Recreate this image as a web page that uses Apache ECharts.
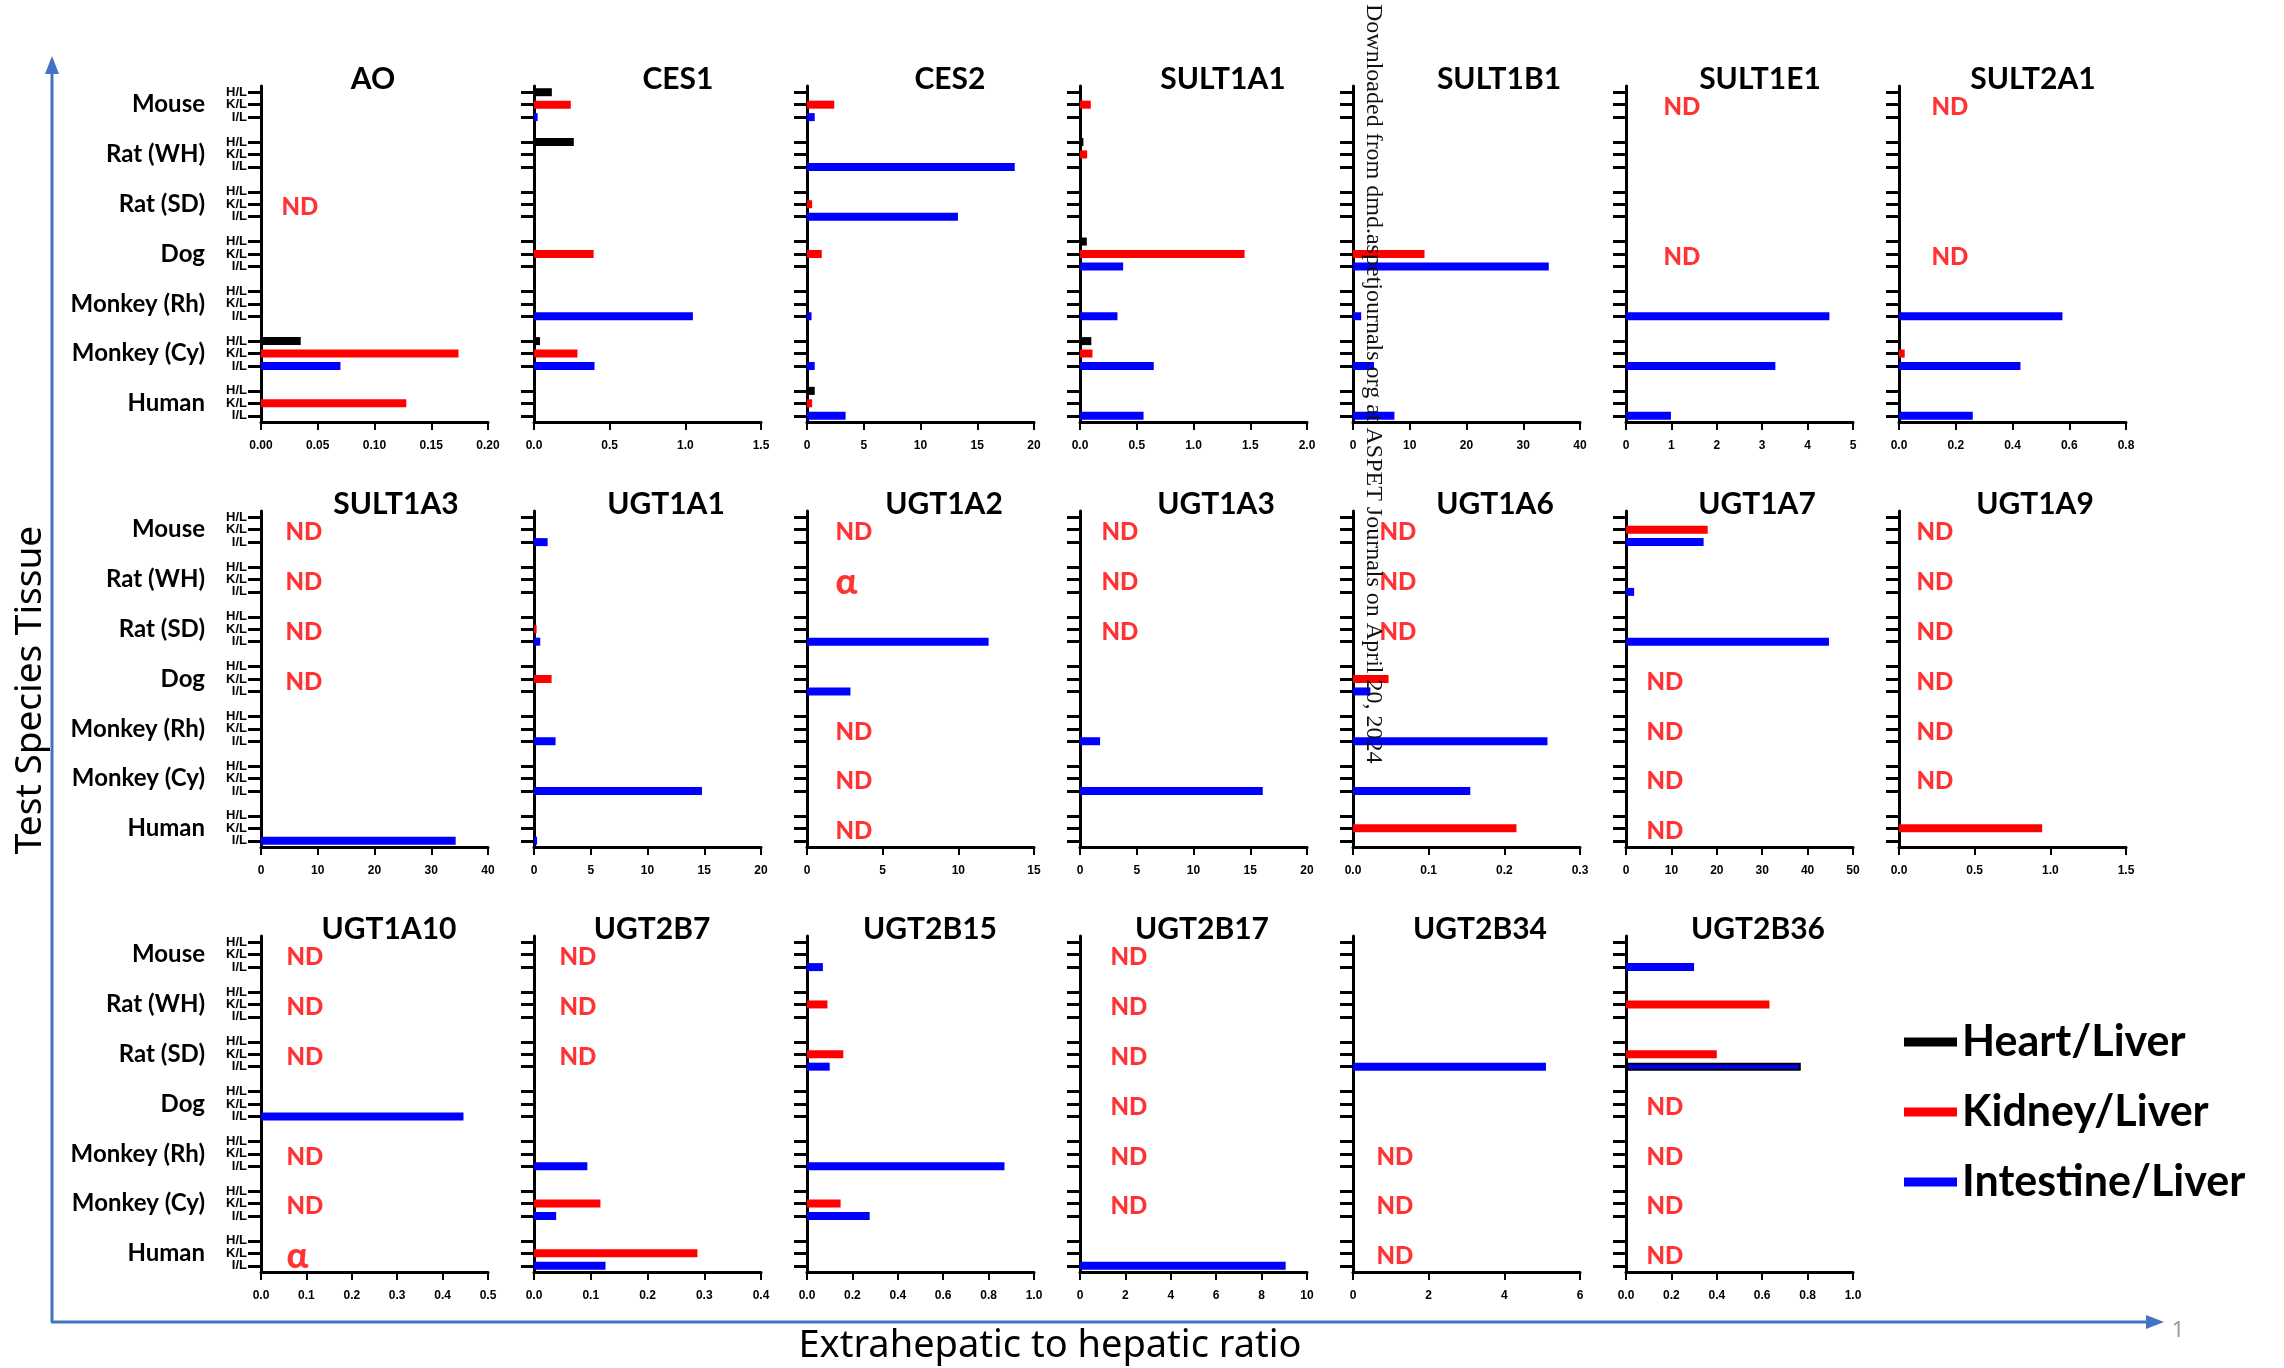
<!DOCTYPE html>
<html><head><meta charset="utf-8">
<script src="https://cdn.jsdelivr.net/npm/echarts@6/dist/echarts.min.js"></script>
<style>html,body{margin:0;padding:0;background:#fff}#c{width:2284px;height:1368px}</style>
</head><body><div id="c"></div>
<script>
// ---------------- DATA ----------------
const n = null;
const species = ['Mouse', 'Rat (WH)', 'Rat (SD)', 'Dog', 'Monkey (Rh)', 'Monkey (Cy)', 'Human'];
const tissueTicks = ['H/L', 'K/L', 'I/L'];
const seriesNames = ['Heart/Liver', 'Kidney/Liver', 'Intestine/Liver'];
const enzymes = ['AO', 'CES1', 'CES2', 'SULT1A1', 'SULT1B1', 'SULT1E1', 'SULT2A1',
  'SULT1A3', 'UGT1A1', 'UGT1A2', 'UGT1A3', 'UGT1A6', 'UGT1A7', 'UGT1A9',
  'UGT1A10', 'UGT2B7', 'UGT2B15', 'UGT2B17', 'UGT2B34', 'UGT2B36'];
// x-axis tick labels per panel: 0 .. max step interval
const axisMax = [0.2, 1.5, 20, 2, 40, 5, 0.8, 40, 20, 15, 20, 0.3, 50, 1.5, 0.5, 0.4, 1.0, 10, 6, 1.0];
const axisStep = [0.05, 0.5, 5, 0.5, 10, 1, 0.2, 10, 5, 5, 5, 0.1, 10, 0.5, 0.1, 0.1, 0.2, 2, 2, 0.2];
const axisDecimals = [2, 1, 0, 1, 0, 0, 1, 0, 0, 0, 0, 1, 0, 1, 1, 1, 1, 0, 0, 1];

// values per species (Mouse, Rat WH, Rat SD, Dog, Monkey Rh, Monkey Cy, Human); null = no bar
const AO_H = [n, n, n, n, n, 0.035, n];
const AO_K = [n, n, n, n, n, 0.174, 0.128];
const AO_I = [n, n, n, n, n, 0.070, n];
const AO_note = ['', '', 'ND', '', '', '', ''];

const CES1_H = [0.118, 0.263, n, n, n, 0.04, n];
const CES1_K = [0.243, n, n, 0.394, n, 0.287, n];
const CES1_I = [0.024, n, n, n, 1.05, 0.40, n];
const CES1_note = ['', '', '', '', '', '', ''];

const CES2_H = [n, n, n, n, n, n, 0.68];
const CES2_K = [2.4, n, 0.45, 1.3, n, n, 0.45];
const CES2_I = [0.68, 18.3, 13.3, n, 0.4, 0.68, 3.4];
const CES2_note = ['', '', '', '', '', '', ''];

const SULT1A1_H = [n, 0.03, n, 0.06, n, 0.10, n];
const SULT1A1_K = [0.095, 0.063, n, 1.45, n, 0.11, n];
const SULT1A1_I = [n, n, n, 0.38, 0.33, 0.65, 0.56];
const SULT1A1_note = ['', '', '', '', '', '', ''];

const SULT1B1_H = [n, n, n, n, n, n, n];
const SULT1B1_K = [n, n, n, 12.6, n, n, n];
const SULT1B1_I = [n, n, n, 34.5, 1.45, 3.7, 7.3];
const SULT1B1_note = ['', '', '', '', '', '', ''];

const SULT1E1_H = [n, n, n, n, n, n, n];
const SULT1E1_K = [n, n, n, n, n, n, n];
const SULT1E1_I = [n, n, n, n, 4.48, 3.29, 0.99];
const SULT1E1_note = ['ND', '', '', 'ND', '', '', ''];

const SULT2A1_H = [n, n, n, n, n, n, n];
const SULT2A1_K = [n, n, n, n, n, 0.02, n];
const SULT2A1_I = [n, n, n, n, 0.576, 0.428, 0.26];
const SULT2A1_note = ['ND', '', '', 'ND', '', '', ''];

const SULT1A3_H = [n, n, n, n, n, n, n];
const SULT1A3_K = [n, n, n, n, n, n, n];
const SULT1A3_I = [n, n, n, n, n, n, 34.3];
const SULT1A3_note = ['ND', 'ND', 'ND', 'ND', '', '', ''];

const UGT1A1_H = [n, n, n, n, n, n, n];
const UGT1A1_K = [n, n, 0.23, 1.55, n, n, n];
const UGT1A1_I = [1.2, n, 0.55, n, 1.9, 14.8, 0.27];
const UGT1A1_note = ['', '', '', '', '', '', ''];

const UGT1A2_H = [n, n, n, n, n, n, n];
const UGT1A2_K = [n, n, n, n, n, n, n];
const UGT1A2_I = [n, n, 12.0, 2.87, n, n, n];
const UGT1A2_note = ['ND', 'α', '', '', 'ND', 'ND', 'ND'];

const UGT1A3_H = [n, n, n, n, n, n, n];
const UGT1A3_K = [n, n, n, n, n, n, n];
const UGT1A3_I = [n, n, n, n, 1.77, 16.1, n];
const UGT1A3_note = ['ND', 'ND', 'ND', '', '', '', ''];

const UGT1A6_H = [n, n, n, n, n, n, n];
const UGT1A6_K = [n, n, n, 0.047, n, n, 0.216];
const UGT1A6_I = [n, n, n, 0.023, 0.257, 0.155, n];
const UGT1A6_note = ['ND', 'ND', 'ND', '', '', '', ''];

const UGT1A7_H = [n, n, n, n, n, n, n];
const UGT1A7_K = [18.0, n, n, n, n, n, n];
const UGT1A7_I = [17.1, 1.8, 44.7, n, n, n, n];
const UGT1A7_note = ['', '', '', 'ND', 'ND', 'ND', 'ND'];

const UGT1A9_H = [n, n, n, n, n, n, n];
const UGT1A9_K = [n, n, n, n, n, n, 0.946];
const UGT1A9_I = [n, n, n, n, n, n, n];
const UGT1A9_note = ['ND', 'ND', 'ND', 'ND', 'ND', 'ND', ''];

const UGT1A10_H = [n, n, n, n, n, n, n];
const UGT1A10_K = [n, n, n, n, n, n, n];
const UGT1A10_I = [n, n, n, 0.446, n, n, n];
const UGT1A10_note = ['ND', 'ND', 'ND', '', 'ND', 'ND', 'α'];

const UGT2B7_H = [n, n, n, n, n, n, n];
const UGT2B7_K = [n, n, n, n, n, 0.117, 0.288];
const UGT2B7_I = [n, n, n, n, 0.094, 0.039, 0.126];
const UGT2B7_note = ['ND', 'ND', 'ND', '', '', '', ''];

const UGT2B15_H = [n, n, n, n, n, n, n];
const UGT2B15_K = [n, 0.09, 0.16, n, n, 0.148, n];
const UGT2B15_I = [0.07, n, 0.10, n, 0.87, 0.276, n];
const UGT2B15_note = ['', '', '', '', '', '', ''];

const UGT2B17_H = [n, n, n, n, n, n, n];
const UGT2B17_K = [n, n, n, n, n, n, n];
const UGT2B17_I = [n, n, n, n, n, n, 9.06];
const UGT2B17_note = ['ND', 'ND', 'ND', 'ND', 'ND', 'ND', ''];

const UGT2B34_H = [n, n, n, n, n, n, n];
const UGT2B34_K = [n, n, n, n, n, n, n];
const UGT2B34_I = [n, n, 5.1, n, n, n, n];
const UGT2B34_note = ['', '', '', '', 'ND', 'ND', 'ND'];

const UGT2B36_H = [n, n, n, n, n, n, n];
const UGT2B36_K = [n, 0.632, 0.40, n, n, n, n];
const UGT2B36_I = [0.30, n, 0.77, n, n, n, n];
const UGT2B36_note = ['', '', '', 'ND', 'ND', 'ND', 'ND'];

// bars drawn with a black outline in the original: [enzyme, tissue index, species index]
const outlinedBars = [['UGT2B36', 2, 2]];

const heartVals = [AO_H, CES1_H, CES2_H, SULT1A1_H, SULT1B1_H, SULT1E1_H, SULT2A1_H, SULT1A3_H, UGT1A1_H, UGT1A2_H, UGT1A3_H, UGT1A6_H, UGT1A7_H, UGT1A9_H, UGT1A10_H, UGT2B7_H, UGT2B15_H, UGT2B17_H, UGT2B34_H, UGT2B36_H];
const kidneyVals = [AO_K, CES1_K, CES2_K, SULT1A1_K, SULT1B1_K, SULT1E1_K, SULT2A1_K, SULT1A3_K, UGT1A1_K, UGT1A2_K, UGT1A3_K, UGT1A6_K, UGT1A7_K, UGT1A9_K, UGT1A10_K, UGT2B7_K, UGT2B15_K, UGT2B17_K, UGT2B34_K, UGT2B36_K];
const intestineVals = [AO_I, CES1_I, CES2_I, SULT1A1_I, SULT1B1_I, SULT1E1_I, SULT2A1_I, SULT1A3_I, UGT1A1_I, UGT1A2_I, UGT1A3_I, UGT1A6_I, UGT1A7_I, UGT1A9_I, UGT1A10_I, UGT2B7_I, UGT2B15_I, UGT2B17_I, UGT2B34_I, UGT2B36_I];
const notes = [AO_note, CES1_note, CES2_note, SULT1A1_note, SULT1B1_note, SULT1E1_note, SULT2A1_note, SULT1A3_note, UGT1A1_note, UGT1A2_note, UGT1A3_note, UGT1A6_note, UGT1A7_note, UGT1A9_note, UGT1A10_note, UGT2B7_note, UGT2B15_note, UGT2B17_note, UGT2B34_note, UGT2B36_note];

// ---------------- LAYOUT / STYLE ----------------
const colors = ['#000000', '#FF0000', '#0000FF'];
const GRID_LEFT0 = 261, COL_STEP = 273, GRID_W = 227;
const ROW_TOP0 = 83, ROW_STEP = 425, AXIS_H = 339;
// per-panel title centre offset from the panel's y axis (px) and ND text offset (px)
const titleDx = [112, 144, 143, 143, 146, 134, 134, 135, 132, 137, 136, 142, 131, 136, 128, 118, 123, 122, 127, 132];
const noteDx = [20, 22, 22, 22, 22, 37, 32, 24, 22, 28, 21, 26, 20, 17, 25, 25, 22, 30, 23, 20];
const SLOTS = 27; // 7 species x (3 tissues + 1 gap) - last gap
const cats = []; for (let i = 0; i < SLOTS; i++) cats.push('c' + i);
const slotOf = (s, t) => s * 4 + t;
const FONT = 'Lato, "Open Sans", sans-serif';
const TICKFONT = '"Liberation Sans", Arial, sans-serif';

const grids = [], xAxes = [], yAxes = [], series = [], titles = [];
const valsByTissue = [heartVals, kidneyVals, intestineVals];

enzymes.forEach((name, p) => {
  const row = Math.floor(p / 7), col = p % 7;
  const left = GRID_LEFT0 + col * COL_STEP;
  const rowTop = ROW_TOP0 + row * ROW_STEP;
  grids.push({ left: left, top: rowTop + 3, width: GRID_W, height: AXIS_H - 3 });
  titles.push({
    text: name, left: left + titleDx[p], top: rowTop - 21, textAlign: 'center', padding: 0,
    textStyle: { fontSize: 30, fontWeight: 'bold', fontFamily: FONT, color: '#000', lineHeight: 34 }
  });
  const dec = axisDecimals[p];
  xAxes.push({
    type: 'value', gridIndex: p, min: 0, max: axisMax[p], interval: axisStep[p],
    axisLine: { show: true, lineStyle: { color: '#000', width: 3 } },
    axisTick: { show: true, length: 8, lineStyle: { color: '#000', width: 2 } },
    splitLine: { show: false },
    axisLabel: { formatter: v => Number(v).toFixed(dec), fontSize: 12, fontWeight: 'bold', fontFamily: TICKFONT, color: '#000', margin: 18, showMaxLabel: true, showMinLabel: true }
  });
  const yIdx = yAxes.length;
  yAxes.push({
    type: 'category', gridIndex: p, data: cats, inverse: true,
    axisLine: { show: true, onZero: false, lineStyle: { color: '#000', width: 3 } },
    axisTick: { show: true, alignWithLabel: true, length: 13, interval: (i) => i % 4 !== 3, lineStyle: { color: '#000', width: 3 } },
    axisLabel: {
      show: col === 0, interval: 0, margin: 14, fontSize: 13, fontWeight: 'bold', fontFamily: TICKFONT, color: '#000', lineHeight: 12,
      formatter: (v, i) => (i % 4 === 3 ? '' : tissueTicks[i % 4])
    },
    splitLine: { show: false }
  });
  if (col === 0) {
    yAxes.push({
      type: 'category', gridIndex: p, data: cats, inverse: true, position: 'left',
      axisLine: { show: false }, axisTick: { show: false }, splitLine: { show: false },
      axisLabel: {
        interval: 0, margin: 56, fontSize: 24, fontWeight: 'bold', fontFamily: FONT, color: '#000',
        padding: [0, 0, 10, 0],
        formatter: (v, i) => (i % 4 === 1 ? species[(i - 1) / 4] : '')
      }
    });
  }
  // bars
  for (let t = 0; t < 3; t++) {
    const data = cats.map(() => '-');
    valsByTissue[t][p].forEach((v, s) => {
      if (v === null) return;
      const outlined = outlinedBars.some(o => o[0] === name && o[1] === t && o[2] === s);
      data[slotOf(s, t)] = outlined ? { value: v, itemStyle: { borderColor: '#000', borderWidth: 2 } } : v;
    });
    series.push({
      type: 'bar', name: seriesNames[t], xAxisIndex: p, yAxisIndex: yIdx, data: data,
      barWidth: 8, barGap: '-100%', itemStyle: { color: colors[t] }, silent: true
    });
  }
  // ND / alpha annotations
  const noteData = [];
  notes[p].forEach((txt, s) => {
    if (!txt) return;
    const big = txt === 'α';
    noteData.push({
      name: txt, value: [0, slotOf(s, 1)],
      label: { fontSize: big ? 36 : 24, fontFamily: FONT }
    });
  });
  if (noteData.length) {
    series.push({
      type: 'scatter', name: 'note' + p, xAxisIndex: p, yAxisIndex: yIdx, data: noteData,
      symbolSize: 1, itemStyle: { color: 'rgba(0,0,0,0)' }, silent: true, z: 5,
      label: { show: true, position: 'right', distance: noteDx[p], offset: [0, 3], formatter: q => q.name, color: '#FF0000', fontWeight: 900, fontFamily: FONT }
    });
  }
});

const blue = '#4472C4';
const option = {
  animation: false,
  backgroundColor: '#fff',
  title: titles,
  grid: grids, xAxis: xAxes, yAxis: yAxes, series: series,
  legend: {
    data: seriesNames, orient: 'vertical', left: 1899, top: 1012, itemWidth: 53, itemHeight: 9, itemGap: 20,
    icon: 'rect', selectedMode: false,
    textStyle: { fontSize: 43, fontWeight: 'bold', fontFamily: FONT, color: '#000', lineHeight: 50 }
  },
  graphic: [
    { type: 'line', shape: { x1: 52, y1: 1322, x2: 52, y2: 70 }, style: { stroke: blue, lineWidth: 3 }, z: 10 },
    { type: 'polygon', shape: { points: [[52, 56], [45, 74], [59, 74]] }, style: { fill: blue }, z: 10 },
    { type: 'line', shape: { x1: 51, y1: 1322, x2: 2150, y2: 1322 }, style: { stroke: blue, lineWidth: 3 }, z: 10 },
    { type: 'polygon', shape: { points: [[2164, 1322], [2146, 1315], [2146, 1329]] }, style: { fill: blue }, z: 10 },
    { type: 'text', x: 30, y: 690, rotation: Math.PI / 2, z: 10,
      style: { text: 'Test Species Tissue', fill: '#000', font: '37px "Noto Sans", sans-serif', align: 'center', verticalAlign: 'middle' } },
    { type: 'text', x: 1050, y: 1346, z: 10,
      style: { text: 'Extrahepatic to hepatic ratio', fill: '#000', font: '38px "Noto Sans", sans-serif', align: 'center', verticalAlign: 'middle' } },
    { type: 'text', x: 2178, y: 1331, z: 10,
      style: { text: '1', fill: '#999', font: '22px "Noto Sans", sans-serif', align: 'center', verticalAlign: 'middle' } },
    { type: 'text', x: 1373, y: 4, rotation: -Math.PI / 2, z: 20,
      style: { text: 'Downloaded from dmd.aspetjournals.org at ASPET Journals on April 20, 2024', fill: '#111', font: '24px "Liberation Serif", serif', align: 'left', verticalAlign: 'middle' } }
  ]
};
const chart = echarts.init(document.getElementById('c'), null, { renderer: 'canvas' });
chart.setOption(option);
</script>
</body></html>
